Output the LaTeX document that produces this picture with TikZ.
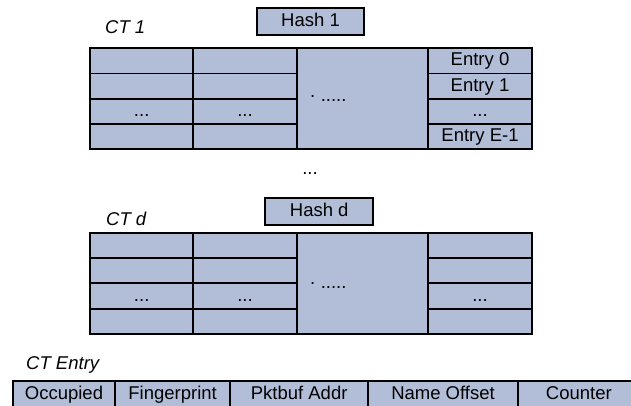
\documentclass[tikz,border=0pt]{standalone}
\usepackage{fontspec}
\setmainfont{Liberation Sans}
\usetikzlibrary{positioning}
\definecolor{ctfill}{RGB}{178,190,216}

\begin{document}
\begin{tikzpicture}[x=1pt,y=-1pt,
  cell/.style={draw=black,fill=ctfill,line width=1.9pt,inner sep=0pt,outer sep=0pt},
  txt/.style={font=\fontsize{18.5}{20}\selectfont,text height=13.9pt,text depth=3.7pt,inner sep=0pt},
  tlabel/.style={txt,font=\fontsize{18.5}{20}\selectfont\itshape,anchor=west}]
  \useasboundingbox (0,0) rectangle (631,406);
  % table CT 1
  \node[tlabel] (ctone) at (105,28) {CT 1};
  \node[cell,txt,minimum width=107.6pt,minimum height=27.3pt] (hashone) at (310.5,21.3) {Hash 1};
  \node[cell,minimum width=131.6pt,minimum height=100.7pt] (onemid) at (362.5,98.65) {};
  \foreach \r in {0,...,3} {
    \node[cell,minimum width=103.3pt,minimum height=25.2pt] (onea\r) at (141.7,60.9+25.2*\r) {};
    \node[cell,minimum width=103.4pt,minimum height=25.2pt] (oneb\r) at (245,60.9+25.2*\r) {};
  }
  \foreach \r/\s in {0/{Entry 0},1/{Entry 1},2/{{...}},3/{Entry E-1}}
    \node[cell,txt,minimum width=103.4pt,minimum height=25.2pt] (onee\r) at (480,60.9+25.2*\r) {\s};
  \node[txt] at (onea2) {...};
  \node[txt] at (oneb2) {...};
  \node[txt] (onedots) at (328,96) {· .....};
  % gap
  \node[txt] (gapdots) at (310,169) {...};
  % table CT d
  \node[tlabel] (ctdee) at (106,220) {CT d};
  \node[cell,txt,minimum width=108.3pt,minimum height=27.6pt] (hashdee) at (319.2,211.5) {Hash d};
  \node[cell,minimum width=131.6pt,minimum height=101.3pt] (deemid) at (362.5,283.35) {};
  \foreach \r in {0,...,3} {
    \node[cell,minimum width=103.3pt,minimum height=25.3pt] (deea\r) at (141.7,245.35+25.3*\r) {};
    \node[cell,minimum width=103.4pt,minimum height=25.3pt] (deeb\r) at (245,245.35+25.3*\r) {};
    \node[cell,minimum width=103.4pt,minimum height=25.3pt] (deee\r) at (480,245.35+25.3*\r) {};
  }
  \node[txt] at (deea2) {...};
  \node[txt] at (deeb2) {...};
  \node[txt] at (deee2) {...};
  \node[txt] (deedots) at (328,283) {· .....};
  % entry layout
  \node[tlabel] (ctentry) at (26,364.5) {CT Entry};
  \node[cell,txt,minimum width=102.6pt,minimum height=27.3pt] (occ) at (64,394.35) {Occupied};
  \node[cell,txt,minimum width=114.7pt,minimum height=27.3pt,right=0pt of occ] (fing) {Fingerprint};
  \node[cell,txt,minimum width=138.3pt,minimum height=27.3pt,right=0pt of fing] (pkt) {Pktbuf Addr};
  \node[cell,txt,minimum width=149.4pt,minimum height=27.3pt,right=0pt of pkt] (noff) {Name Offset};
  \node[cell,txt,minimum width=122.3pt,minimum height=27.3pt,right=0pt of noff] (cnt) {Counter};
\end{tikzpicture}
\end{document}
